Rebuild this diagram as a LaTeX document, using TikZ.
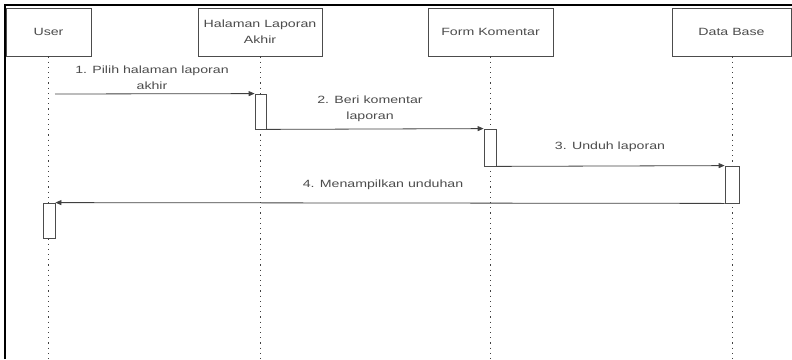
\documentclass[tikz,border=0pt]{standalone}
\usepackage{fontspec}
\setmainfont[FakeStretch=1.35]{Liberation Sans}
\usetikzlibrary{arrows.meta}
\begin{document}
\begin{tikzpicture}[x=1pt,y=-1pt,
  every node/.style={font=\fontsize{10.5}{16}\selectfont, text=black!70},
  actor/.style={draw=black!70, line width=0.8pt, fill=white, minimum height=48pt, inner sep=1pt, align=center},
  activation/.style={draw=black!70, line width=0.8pt, fill=white, minimum width=11pt, inner sep=0pt},
  lifeline/.style={draw=black!75, line width=1pt, dash pattern=on 1.2pt off 4pt},
  msg/.style={draw=black!75, line width=0.8pt, -{Triangle[length=6pt,width=5pt]}},
  label/.style={align=center, inner sep=0pt}]
\useasboundingbox (0,0) rectangle (792,359);
% frame
\draw[line width=2pt] (5,359) -- (5,5) -- (792,5);
% participants
\node[actor, minimum width=85pt] (user) at (48.5,32) {User};
\node[actor, minimum width=124pt] (hal) at (260,32) {Halaman Laporan\\Akhir};
\node[actor, minimum width=125pt] (form) at (490.5,32) {Form Komentar};
\node[actor, minimum width=119pt] (db) at (731.5,32) {Data Base};
% lifelines
\coordinate (userEnd) at (48,359);
\coordinate (halEnd) at (260,359);
\coordinate (formEnd) at (490,359);
\coordinate (dbEnd) at (732,359);
\draw[lifeline] (user.south -| userEnd) -- (userEnd);
\draw[lifeline] (hal.south -| halEnd) -- (halEnd);
\draw[lifeline] (form.south -| formEnd) -- (formEnd);
\draw[lifeline] (db.south -| dbEnd) -- (dbEnd);
% activations
\node[activation, minimum height=35pt] (hact) at (260.5,111.5) {};
\node[activation, minimum width=12pt, minimum height=37pt] (fact) at (490,147.5) {};
\node[activation, minimum width=14pt, minimum height=37pt] (dact) at (732,184.5) {};
\node[activation, minimum width=12pt, minimum height=35pt] (uact) at (49,220.5) {};
% messages
\coordinate (m1start) at (55,94);
\draw[msg] (m1start) -- (hact.north west);
\draw[msg] (hact.south east) -- (fact.north west);
\draw[msg] (fact.south east) -- (dact.north west);
\draw[msg] (dact.south west) -- (uact.north east);
% message labels
\node[label] (l1) at (152,77.5) {1. Pilih halaman laporan\\akhir};
\node[label] (l2) at (370,109) {2. Beri komentar\\laporan};
\node[label] (l3) at (610,147) {3. Unduh laporan};
\node[label] (l4) at (383,185) {4. Menampilkan unduhan};
\end{tikzpicture}
\end{document}
